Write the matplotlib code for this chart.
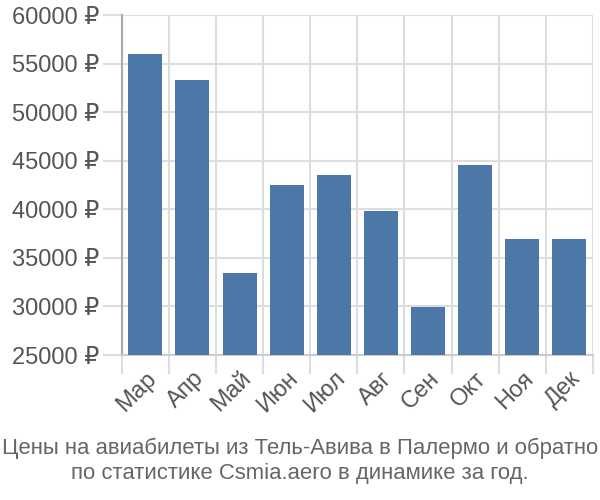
import matplotlib
matplotlib.use("Agg")
import matplotlib.pyplot as plt
import numpy as np

months = ["Мар", "Апр", "Май", "Июн", "Июл", "Авг", "Сен", "Окт", "Ноя", "Дек"]
prices = [56000, 53300, 33400, 42500, 43500, 39800, 29900, 44600, 36900, 36900]
yticks = [25000, 30000, 35000, 40000, 45000, 50000, 55000, 60000]

plt.rcParams['font.family'] = ['Liberation Sans', 'DejaVu Sans']

fig = plt.figure(figsize=(6, 5), dpi=100)
ax = fig.add_axes([0.203, 0.29, 0.785, 0.68])

x = np.arange(len(months))
ax.bar(x, prices, width=0.72, color="#4c78a8", zorder=3)

ax.set_xlim(-0.5, len(months) - 0.5)
ax.set_ylim(25000, 60000)
ax.set_yticks(yticks)
ax.set_yticklabels([f"{v} ₽" for v in yticks])
ax.set_xticks(x)
ax.set_xticklabels(months, rotation=45, ha="right", rotation_mode="anchor")

# vertical grid between bars
ax.set_xticks(np.arange(len(months) + 1) - 0.5, minor=True)
ax.grid(False)
for b in np.arange(len(months) + 1) - 0.5:
    ax.axvline(b, color="#dddddd", lw=1.5, zorder=1)
for v in yticks:
    ax.axhline(v, color="#dddddd", lw=1.5, zorder=1)

ax.tick_params(axis="x", which="major", length=0, pad=9, labelsize=17, labelcolor="#555555")
ax.tick_params(axis="x", which="minor", length=14, color="#dddddd", width=1.5)
ax.tick_params(axis="y", length=14, color="#dddddd", width=1.5, labelsize=17, labelcolor="#555555", pad=2)

for s in ["top", "right"]:
    ax.spines[s].set_visible(False)
ax.spines["left"].set_color("#aaaaaa")
ax.spines["left"].set_linewidth(1.5)
ax.spines["bottom"].set_color("#cccccc")
ax.spines["bottom"].set_linewidth(1.5)

fig.text(0.5, 0.079, "Цены на авиабилеты из Тель-Авива в Палермо и обратно\nпо статистике Csmia.aero в динамике за год.",
         ha="center", va="center", fontsize=15.9, color="#666666", linespacing=1.25)

fig.savefig("out.png", dpi=100)
